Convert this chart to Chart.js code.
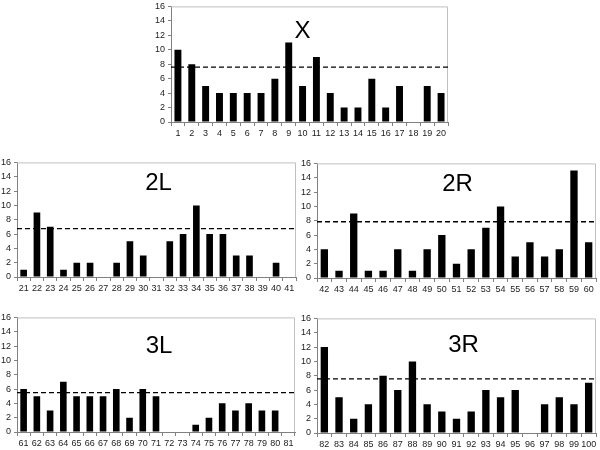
<!DOCTYPE html>
<html>
<head>
<meta charset="utf-8">
<script src="https://cdn.jsdelivr.net/npm/chart.js@4.4.1/dist/chart.umd.min.js"></script>
<style>
  html, body { margin: 0; padding: 0; background: #fff; }
  #wrap { position: relative; width: 600px; height: 450px; overflow: hidden; }
  .panel { position: absolute; }
</style>
</head>
<body>
<div id="wrap"></div>
<script>
// chromosome arm panels: names, bin labels, counts, dashed mean
const panelNames = ["X", "2L", "2R", "3L", "3R"];

const labelsX = ["1","2","3","4","5","6","7","8","9","10","11","12","13","14","15","16","17","18","19","20"];
const valuesX = [10, 8, 5, 4, 4, 4, 4, 6, 11, 5, 9, 4, 2, 2, 6, 2, 5, 0, 5, 4];

const labels2L = ["21","22","23","24","25","26","27","28","29","30","31","32","33","34","35","36","37","38","39","40","41"];
const values2L = [1, 9, 7, 1, 2, 2, 0, 2, 5, 3, 0, 5, 6, 10, 6, 6, 3, 3, 0, 2, 0];

const labels2R = ["42","43","44","45","46","47","48","49","50","51","52","53","54","55","56","57","58","59","60"];
const values2R = [4, 1, 9, 1, 1, 4, 1, 4, 6, 2, 4, 7, 10, 3, 5, 3, 4, 15, 5];

const labels3L = ["61","62","63","64","65","66","67","68","69","70","71","72","73","74","75","76","77","78","79","80","81"];
const values3L = [6, 5, 3, 7, 5, 5, 5, 6, 2, 6, 5, 0, 0, 1, 2, 4, 3, 4, 3, 3, 0];

const labels3R = ["82","83","84","85","86","87","88","89","90","91","92","93","94","95","96","97","98","99","100"];
const values3R = [12, 5, 2, 4, 8, 6, 10, 4, 3, 2, 3, 6, 5, 6, 0, 4, 5, 4, 7];

const meanLines = [7.6, 6.75, 7.85, 5.5, 7.55];
const yTicks = [0, 2, 4, 6, 8, 10, 12, 14, 16];

const allLabels = [labelsX, labels2L, labels2R, labels3L, labels3R];
const allValues = [valuesX, values2L, values2R, values3L, values3R];

// plot-area placement of each panel on the page (left, top, right, bottom)
const boxes = [
  { l: 171, t: 5.5, r: 448, b: 121.5, tx: -7, ty: 25 },
  { l: 17, t: 162, r: 296, b: 277, tx: 2, ty: 21 },
  { l: 317, t: 163, r: 596, b: 278, tx: 1, ty: 21 },
  { l: 17, t: 317, r: 295, b: 432, tx: 3, ty: 29 },
  { l: 317, t: 318, r: 596, b: 433, tx: 7, ty: 27 }
];

const yAxisW = 24;
const xAxisH = 20;
const padTop = 8;
const padRight = 4;

const panelDecor = {
  id: "panelDecor",
  beforeDatasetsDraw(chart, args, opts) {
    const a = chart.chartArea;
    const ctx = chart.ctx;
    ctx.save();
    ctx.strokeStyle = "#c0c0c0";
    ctx.lineWidth = 1;
    ctx.beginPath();
    ctx.moveTo(a.left, a.top + 0.5);
    ctx.lineTo(a.right - 0.5, a.top + 0.5);
    ctx.lineTo(a.right - 0.5, a.bottom);
    ctx.stroke();
    ctx.restore();
  },
  afterDatasetsDraw(chart, args, opts) {
    const a = chart.chartArea;
    const ctx = chart.ctx;
    const y = chart.scales.y.getPixelForValue(opts.mean);
    ctx.save();
    ctx.strokeStyle = "#000";
    ctx.lineWidth = 1.3;
    ctx.setLineDash([5, 3]);
    ctx.beginPath();
    ctx.moveTo(a.left, y);
    ctx.lineTo(a.right, y);
    ctx.stroke();
    ctx.setLineDash([]);
    ctx.fillStyle = "#000";
    ctx.font = "24px 'Liberation Sans', Arial, sans-serif";
    ctx.textAlign = "center";
    ctx.textBaseline = "middle";
    ctx.fillText(opts.title, (a.left + a.right) / 2 + opts.tx, a.top + opts.ty);
    ctx.restore();
  }
};

const wrap = document.getElementById("wrap");

panelNames.forEach((name, i) => {
  const b = boxes[i];
  const w = yAxisW + (b.r - b.l) + padRight;
  const h = padTop + (b.b - b.t) + xAxisH;
  const div = document.createElement("div");
  div.className = "panel";
  div.style.left = (b.l - yAxisW) + "px";
  div.style.top = (b.t - padTop) + "px";
  const canvas = document.createElement("canvas");
  canvas.width = w;
  canvas.height = h;
  div.appendChild(canvas);
  wrap.appendChild(div);

  new Chart(canvas, {
    type: "bar",
    data: {
      labels: allLabels[i],
      datasets: [
        {
          data: allValues[i],
          backgroundColor: "#000",
          borderWidth: 0,
          categoryPercentage: 1,
          barPercentage: 0.5
        }
      ]
    },
    options: {
      responsive: false,
      animation: false,
      layout: { padding: { top: padTop, right: padRight, left: 0, bottom: 0 } },
      plugins: {
        legend: { display: false },
        tooltip: { enabled: false },
        panelDecor: { mean: meanLines[i], title: name, tx: b.tx, ty: b.ty }
      },
      scales: {
        x: {
          afterFit(scale) { scale.height = xAxisH; },
          grid: { display: true, drawOnChartArea: false, drawTicks: true, tickLength: 4, color: "#808080", offset: true },
          border: { display: true, color: "#808080", width: 1 },
          ticks: {
            color: "#222",
            autoSkip: false,
            maxRotation: 0,
            padding: 2,
            font: { family: "'Liberation Sans', Arial, sans-serif", size: 9 }
          }
        },
        y: {
          min: 0,
          max: 16,
          afterFit(scale) { scale.width = yAxisW; },
          afterBuildTicks(scale) { scale.ticks = yTicks.map(v => ({ value: v })); },
          grid: { display: true, drawOnChartArea: false, drawTicks: true, tickLength: 3, color: "#808080" },
          border: { display: true, color: "#808080", width: 1 },
          ticks: {
            color: "#222",
            padding: 3,
            font: { family: "'Liberation Sans', Arial, sans-serif", size: 9 }
          }
        }
      }
    },
    plugins: [panelDecor]
  });
});
</script>
</body>
</html>
